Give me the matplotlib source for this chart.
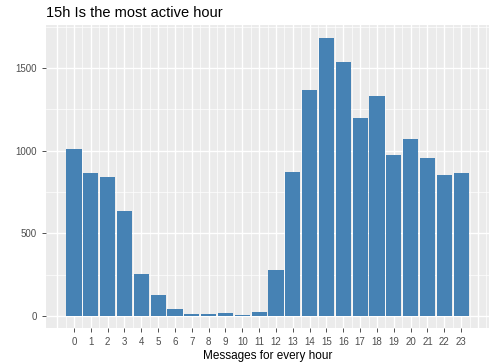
import numpy as np
import matplotlib.pyplot as plt

hours = list(range(24))
messages = [1012, 865, 840, 635, 252, 127, 44, 15, 10, 16, 8, 24,
            278, 871, 1368, 1679, 1534, 1197, 1328, 973, 1068, 953, 851, 863]
y_ticks = [0, 500, 1000, 1500]

plt.rcParams['font.family'] = ['Liberation Sans', 'DejaVu Sans']

fig = plt.figure(figsize=(4.95, 3.64), dpi=100)
ax = fig.add_axes([0.093, 0.099, 0.895, 0.832])
ax.set_facecolor('#EBEBEB')

# grid lines like ggplot (major + minor)
for v in np.arange(-1, 25, 1.0):
    ax.axvline(v, color='white', lw=1.0, zorder=0)
for v in np.arange(-0.5, 25, 1.0):
    ax.axvline(v, color='white', lw=0.5, zorder=0)
for v in y_ticks:
    ax.axhline(v, color='white', lw=1.0, zorder=0)
for v in [250, 750, 1250, 1750]:
    ax.axhline(v, color='white', lw=0.5, zorder=0)

ax.bar(hours, messages, width=0.9, color='#4682B4', zorder=2)

ax.set_xlim(-1.66, 24.66)
ax.set_ylim(-72, 1759)
ax.set_xticks(hours)
ax.set_xticklabels([str(h) for h in hours])
ax.set_yticks(y_ticks)
ax.tick_params(axis='both', colors='#333333', labelcolor='#4D4D4D',
               labelsize=7, length=3, width=0.6)
for s in ax.spines.values():
    s.set_visible(False)

ax.set_xlabel('Messages for every hour', fontsize=8.5, color='black', labelpad=2)
fig.text(0.093, 0.965, '15h Is the most active hour', fontsize=10.5,
         ha='left', va='center', color='black')

fig.savefig('out.png', dpi=100)
